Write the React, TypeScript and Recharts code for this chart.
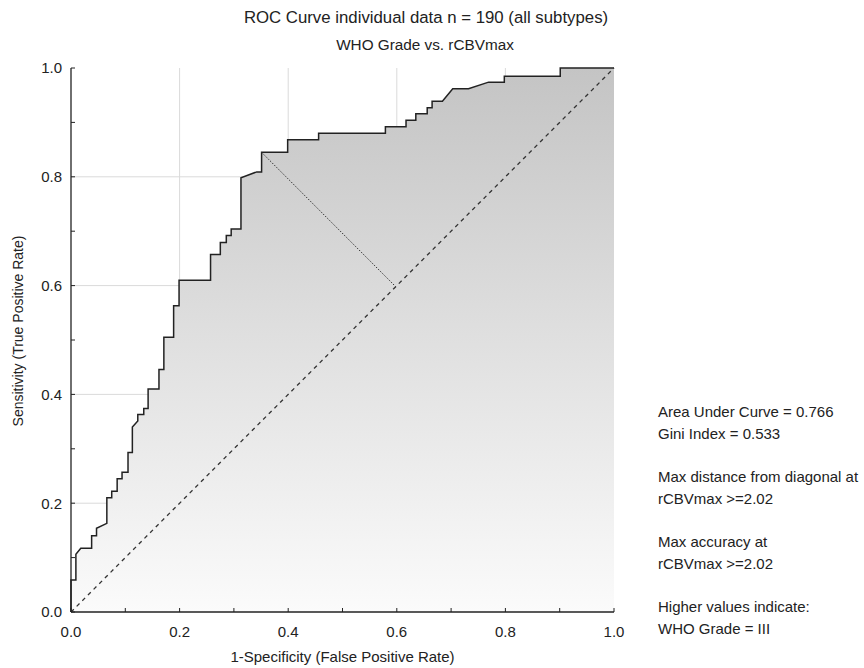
import { ComposedChart, Area, XAxis, YAxis, CartesianGrid, ReferenceLine } from 'recharts'

// ROC corner points (1-specificity, sensitivity)
const FPR = [
  0, 0, 0.009, 0.009, 0.018, 0.038, 0.038, 0.047, 0.047, 0.066, 0.066, 0.075, 0.075, 0.085, 0.085,
  0.094, 0.094, 0.105, 0.105, 0.113, 0.113, 0.123, 0.123, 0.134, 0.134, 0.142, 0.142, 0.162, 0.162,
  0.171, 0.171, 0.189, 0.189, 0.199, 0.199, 0.257, 0.257, 0.275, 0.275, 0.286, 0.286, 0.295, 0.295,
  0.313, 0.313, 0.342, 0.351, 0.351, 0.399, 0.399, 0.456, 0.456, 0.579, 0.579, 0.617, 0.617, 0.635,
  0.635, 0.656, 0.656, 0.665, 0.665, 0.684, 0.703, 0.732, 0.769, 0.798, 0.798, 0.901, 0.901, 1.0
]
const TPR = [
  0, 0.059, 0.059, 0.106, 0.117, 0.117, 0.14, 0.14, 0.154, 0.163, 0.21, 0.21, 0.222, 0.222, 0.245,
  0.245, 0.257, 0.257, 0.293, 0.293, 0.34, 0.351, 0.363, 0.363, 0.374, 0.374, 0.41, 0.41, 0.446,
  0.446, 0.505, 0.505, 0.563, 0.563, 0.61, 0.61, 0.657, 0.657, 0.679, 0.679, 0.692, 0.692, 0.704,
  0.704, 0.798, 0.809, 0.809, 0.845, 0.845, 0.868, 0.868, 0.88, 0.88, 0.892, 0.892, 0.904, 0.904,
  0.916, 0.916, 0.927, 0.927, 0.939, 0.939, 0.962, 0.962, 0.974, 0.974, 0.985, 0.985, 1.0, 1.0
]

// cutoff point (max distance from diagonal) and its projection on the diagonal
const CUT_POINT = [0.351, 0.845]
const CUT_FOOT = [0.598, 0.598]

const TICKS = [0, 0.1, 0.2, 0.3, 0.4, 0.5, 0.6, 0.7, 0.8, 0.9, 1.0]
const GRID = [0.2, 0.4, 0.6, 0.8]

const NOTES = [
  'Area Under Curve = 0.766',
  'Gini Index = 0.533',
  '',
  'Max distance from diagonal at',
  'rCBVmax >=2.02',
  '',
  'Max accuracy at',
  'rCBVmax >=2.02',
  '',
  'Higher values indicate:',
  'WHO Grade = III'
]

const data = FPR.map((x, i) => ({ fpr: x, tpr: TPR[i] }))

const FONT = '"Liberation Sans", Arial, sans-serif'
const INK = '#222'

const fmt = (v: number) => (Math.round(v * 10) % 2 === 0 ? v.toFixed(1) : '')

// grid lines only at the 0.2 steps, placed from the plot offset (domain is 0..1)
const gridX = ({ offset }: any) => GRID.map((v) => offset.left + v * offset.width)
const gridY = ({ offset }: any) => GRID.map((v) => offset.top + (1 - v) * offset.height)

function App(): JSX.Element {
  return (
    <div style={{ position: 'absolute', left: 0, top: 0, width: 864, height: 668, background: '#fff', fontFamily: FONT, color: INK }}>
      <div style={{ position: 'absolute', left: 0, width: 852, top: 8, textAlign: 'center', fontSize: 16.8, whiteSpace: 'nowrap' }}>
        ROC Curve individual data n = 190 (all subtypes)
      </div>
      <div style={{ position: 'absolute', left: 0, width: 850, top: 36, textAlign: 'center', fontSize: 15.3, whiteSpace: 'nowrap' }}>
        WHO Grade vs. rCBVmax
      </div>

      <ComposedChart
        width={864}
        height={668}
        data={data}
        margin={{ top: 68, right: 250, bottom: 26, left: 0 }}
        style={{ fontFamily: FONT }}
      >
        <defs>
          <linearGradient id="rocFill" x1="0" y1="0" x2="0" y2="1">
            <stop offset="0%" stopColor="#c4c4c4" />
            <stop offset="100%" stopColor="#fbfbfb" />
          </linearGradient>
        </defs>
        <CartesianGrid stroke="#dadada" verticalCoordinatesGenerator={gridX} horizontalCoordinatesGenerator={gridY} />
        <XAxis
          dataKey="fpr"
          type="number"
          domain={[0, 1]}
          ticks={TICKS}
          interval={0}
          tickFormatter={fmt}
          tickSize={-4}
          tickMargin={18}
          height={30}
          axisLine={{ stroke: INK, strokeWidth: 1.3 }}
          tickLine={{ stroke: INK }}
          tick={{ fill: INK, fontSize: 15 }}
        />
        <XAxis
          xAxisId="top"
          orientation="top"
          type="number"
          domain={[0, 1]}
          ticks={TICKS}
          interval={0}
          tickSize={-4}
          height={0}
          tick={false}
          axisLine={{ stroke: INK, strokeWidth: 1.3 }}
          tickLine={{ stroke: INK }}
        />
        <YAxis
          type="number"
          domain={[0, 1]}
          ticks={TICKS}
          interval={0}
          tickFormatter={fmt}
          tickSize={-4}
          tickMargin={13}
          width={71}
          axisLine={{ stroke: INK, strokeWidth: 1.3 }}
          tickLine={{ stroke: INK }}
          tick={{ fill: INK, fontSize: 15 }}
        />
        <YAxis
          yAxisId="right"
          orientation="right"
          type="number"
          domain={[0, 1]}
          ticks={TICKS}
          interval={0}
          tickSize={-4}
          width={0}
          tick={false}
          axisLine={{ stroke: INK, strokeWidth: 1.3 }}
          tickLine={{ stroke: INK }}
        />
        <Area
          type="linear"
          dataKey="tpr"
          stroke={INK}
          strokeWidth={1.5}
          fill="url(#rocFill)"
          fillOpacity={1}
          dot={false}
          activeDot={false}
          isAnimationActive={false}
        />
        <ReferenceLine
          segment={[{ x: 0, y: 0 }, { x: 1, y: 1 }]}
          stroke="#333"
          strokeWidth={1.3}
          strokeDasharray="4 4"
        />
        <ReferenceLine
          segment={[{ x: CUT_POINT[0], y: CUT_POINT[1] }, { x: CUT_FOOT[0], y: CUT_FOOT[1] }]}
          stroke="#333"
          strokeWidth={1}
          strokeDasharray="1.5 1.5"
        />
      </ComposedChart>

      <div
        style={{
          position: 'absolute',
          left: 18,
          top: 331,
          fontSize: 14,
          whiteSpace: 'nowrap',
          transform: 'translate(-50%, -50%) rotate(-90deg)'
        }}
      >
        Sensitivity (True Positive Rate)
      </div>
      <div style={{ position: 'absolute', left: 71, width: 543, top: 648, textAlign: 'center', fontSize: 15, whiteSpace: 'nowrap' }}>
        1-Specificity (False Positive Rate)
      </div>

      <div style={{ position: 'absolute', left: 658, top: 401, fontSize: 15, lineHeight: '21.7px', whiteSpace: 'nowrap' }}>
        {NOTES.map((t, i) => (
          <div key={i} style={{ height: 21.7 }}>
            {t}
          </div>
        ))}
      </div>
    </div>
  )
}

export default App
